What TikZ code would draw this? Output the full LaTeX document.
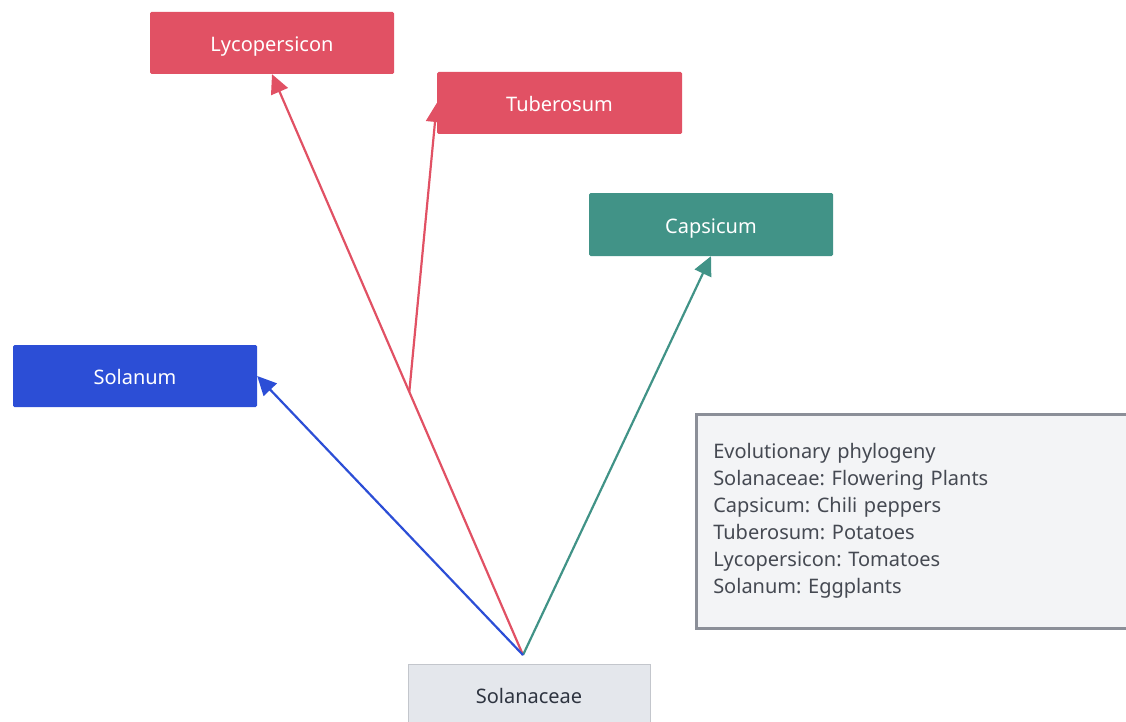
\documentclass[tikz,border=0pt]{standalone}
\usepackage{fontspec}
\setmainfont{Noto Sans}
\frenchspacing
\usetikzlibrary{arrows.meta,calc,backgrounds}
\definecolor{redc}{HTML}{E15164}
\definecolor{bluec}{HTML}{2C4ED6}
\definecolor{tealc}{HTML}{419387}
\definecolor{rootfill}{HTML}{E4E7EC}
\definecolor{rootline}{HTML}{C3C6CC}
\definecolor{notefill}{HTML}{F3F4F6}
\definecolor{noteline}{HTML}{8B8F98}
\definecolor{darktext}{HTML}{2E3440}
\definecolor{notetext}{HTML}{454952}
\tikzset{
  taxon/.style={rectangle, rounded corners=1.5pt, minimum width=244, minimum height=62, inner sep=0pt, text=white, font=\fontsize{20}{24}\selectfont, text depth=0pt, text height=17pt},
  rootbox/.style={rectangle, fill=rootfill, draw=rootline, line width=1pt, minimum width=242, minimum height=62, inner sep=0pt, text=darktext, font=\fontsize{20}{24}\selectfont, text depth=0pt, text height=17pt},
  notebox/.style={rectangle, fill=notefill, draw=noteline, line width=2.5pt, text width=416, inner xsep=17, inner ysep=0pt, minimum height=214, align=left, text=notetext, font=\fontsize{20}{27}\selectfont},
  link/.style={line width=2.2pt, -{Triangle[length=19pt,width=18pt]}},
}
\begin{document}
\begin{tikzpicture}[x=1pt,y=-1pt]
\useasboundingbox (0,0) rectangle (1126,722);
\clip (0,0) rectangle (1126,722);
\node[taxon, fill=redc] (lyco) at (272,43) {Lycopersicon};
\node[taxon, fill=redc, minimum width=245] (tub) at (559.5,103) {Tuberosum};
\node[taxon, fill=tealc, minimum height=63] (caps) at (711,224.5) {Capsicum};
\node[taxon, fill=bluec] (sol) at (135,376) {Solanum};
\node[rootbox] (fam) at (529,695) {Solanaceae};
\node[notebox, anchor=north west] (note) at (695,413) {Evolutionary phylogeny\\Solanaceae: Flowering Plants\\Capsicum: Chili peppers\\Tuberosum: Potatoes\\Lycopersicon: Tomatoes\\Solanum: Eggplants};
\coordinate (root) at (523,655);
\coordinate (br) at ($(root)!0.453!(lyco.south)$);
\begin{pgfonlayer}{background}
\draw[link, draw=redc, fill=redc] (root) -- (lyco.south);
\draw[link, draw=redc, fill=redc] (br) -- (tub.west);
\draw[link, draw=tealc, fill=tealc] (root) -- (caps.south);
\draw[link, draw=bluec, fill=bluec] (root) -- (sol.east);
\end{pgfonlayer}
\end{tikzpicture}
\end{document}
